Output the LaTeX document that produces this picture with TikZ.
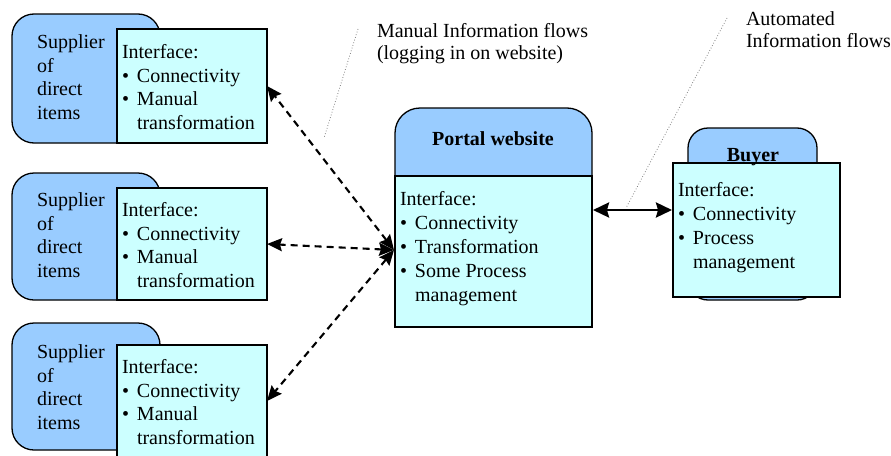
\documentclass[tikz,border=0pt]{standalone}
\usepackage{fontspec}
\setmainfont{Liberation Serif}
\usetikzlibrary{arrows.meta}
\definecolor{hdr}{HTML}{99CCFF}
\definecolor{ifc}{HTML}{CCFFFF}
\newcommand\bul{\makebox[15pt][l]{\textbullet}}
\newcommand\ind{\hspace*{15pt}}
\begin{document}
\begin{tikzpicture}[x=1pt,y=-1pt,
  hdrbox/.style={draw=black, line width=1.3pt, fill=hdr, rounded corners=22pt, inner sep=0, outer sep=0, anchor=north west},
  ifbox/.style={draw=black, line width=1.3pt, fill=ifc, inner sep=0, outer sep=0, anchor=north west},
  txt/.style={anchor=north west, inner sep=0, outer sep=0, align=left, font=\fontsize{20}{23.4}\selectfont},
  txtb/.style={anchor=north west, inner sep=0, outer sep=0, align=left, font=\fontsize{20}{24}\selectfont},
  ttl/.style={anchor=base, inner sep=0, font=\fontsize{20}{24}\selectfont\bfseries},
  note/.style={anchor=north west, inner sep=0, outer sep=0, align=left, font=\fontsize{20}{22}\selectfont},
  dasharr/.style={line width=2.1pt, dash pattern=on 7pt off 5pt, >={Stealth[length=15pt,width=13pt,inset=2pt]}, <->},
  solarr/.style={line width=2.8pt, >={Stealth[length=16pt,width=15pt,inset=2pt]}, <->},
  leader/.style={draw=gray, line width=0.8pt, dotted}
]
\useasboundingbox (0,0) rectangle (891,455);

% Supplier 1
\node[hdrbox, minimum width=148pt, minimum height=129pt] (s1) at (12,14) {};
\node[ifbox, minimum width=150pt, minimum height=114pt] (s1i) at (117,29) {};
\node[txt] (s1t) at (37,32.6) {\strut Supplier\\of\\direct\\items};
\node[txt] (s1it) at (122,42.6) {\strut Interface:\\\bul Connectivity\\\bul Manual\\\ind transformation};

% Supplier 2
\node[hdrbox, minimum width=148pt, minimum height=127pt] (s2) at (12,173) {};
\node[ifbox, minimum width=150pt, minimum height=112pt] (s2i) at (117,188) {};
\node[txt] (s2t) at (37,190.6) {\strut Supplier\\of\\direct\\items};
\node[txt] (s2it) at (122,200.6) {\strut Interface:\\\bul Connectivity\\\bul Manual\\\ind transformation};

% Supplier 3
\node[hdrbox, minimum width=148pt, minimum height=127pt] (s3) at (12,323) {};
\node[ifbox, minimum width=150pt, minimum height=112pt] (s3i) at (117,345) {};
\node[txt] (s3t) at (37,342.6) {\strut Supplier\\of\\direct\\items};
\node[txt] (s3it) at (122,357.6) {\strut Interface:\\\bul Connectivity\\\bul Manual\\\ind transformation};

% Portal
\node[hdrbox, rounded corners=25pt, minimum width=197pt, minimum height=120pt] (p) at (395,108) {};
\node[ifbox, minimum width=197pt, minimum height=151pt] (pi) at (395,176) {};
\node[ttl] (pt) at (493,145) {Portal website};
\node[txtb] (pit) at (400,188.2) {\strut Interface:\\\bul Connectivity\\\bul Transformation\\\bul Some Process\\\ind management};

% Buyer
\node[hdrbox, rounded corners=20pt, minimum width=129pt, minimum height=172pt] (b) at (688,128) {};
\node[ifbox, minimum width=167pt, minimum height=134pt] (bi) at (673,163) {};
\node[ttl] (bt) at (753,161) {Buyer};
\node[txtb] (bit) at (678,179.2) {\strut Interface:\\\bul Connectivity\\\bul Process\\\ind management};

% Notes
\node[note] (n1) at (377,21.6) {\strut Manual Information flows\\(logging in on website)};
\node[note] (n2) at (746,9.6) {\strut Automated\\Information flows};

% Connectors
\coordinate (pc) at (394,250);
\draw[dasharr] (pc) -- (s1i.east);
\draw[dasharr] (pc) -- (s2i.east);
\draw[dasharr] (pc) -- (s3i.east);
\coordinate (a1) at (593,210);
\coordinate (a2) at (672,210);
\draw[solarr] (a1) -- (a2);

% Leader lines
\coordinate (m1) at (358,29);
\coordinate (m2) at (324,138);
\draw[leader] (m1) -- (m2);
\coordinate (u1) at (727,18);
\coordinate (u2) at (626,208);
\draw[leader] (u1) -- (u2);
\end{tikzpicture}
\end{document}
